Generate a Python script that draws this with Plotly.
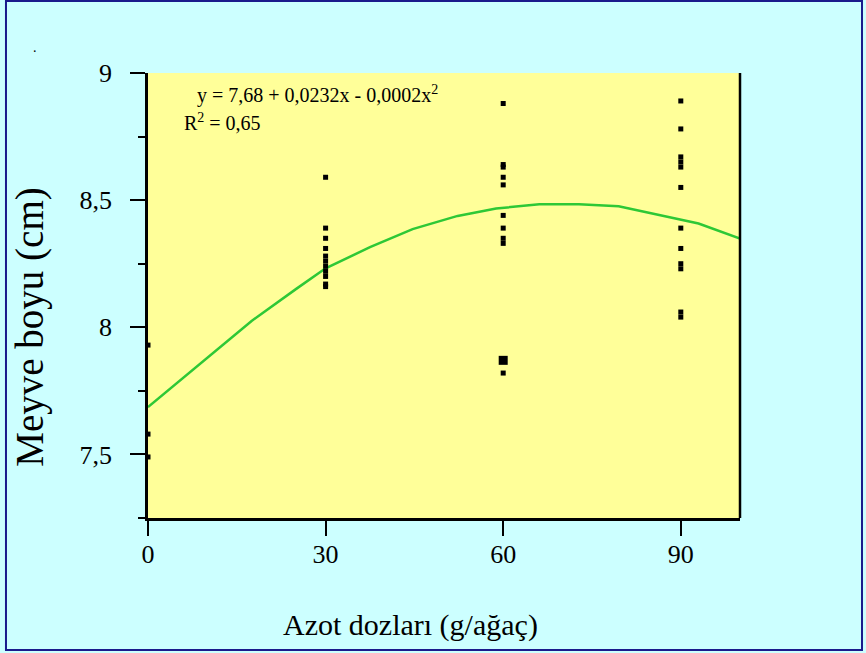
import plotly.graph_objects as go

# Nitrogen dose (g/tree) and fruit length (cm) observations
dose_0 = [0, 0, 0]
len_0 = [7.93, 7.58, 7.49]

dose_30 = [30] * 11
len_30 = [8.59, 8.39, 8.35, 8.31, 8.28, 8.26, 8.24, 8.22, 8.20, 8.17, 8.16]

dose_60 = [60] * 10
len_60 = [8.88, 8.64, 8.63, 8.59, 8.56, 8.44, 8.39, 8.35, 8.33, 7.82]

dose_90 = [90] * 12
len_90 = [8.89, 8.78, 8.67, 8.65, 8.63, 8.55, 8.39, 8.31, 8.25, 8.23, 8.06, 8.04]

# overlapping observations drawn as one larger square
dose_dup = [60]
len_dup = [7.87]

# fitted quadratic trend, as polyline knots
fit_x = [0, 11.3, 17.5, 25.1, 30, 37.5, 44.7, 52.3, 58.8, 66.1, 72.8, 79.5, 93.0, 100]
fit_y = [7.686, 7.903, 8.025, 8.152, 8.232, 8.315, 8.386, 8.438, 8.467, 8.484, 8.484, 8.476, 8.408, 8.349]

x_ticks = [0, 30, 60, 90]

FONT = "Liberation Serif"

fig = go.Figure()

fig.add_trace(go.Scatter(x=fit_x, y=fit_y, mode="lines",
                         line=dict(color="#2ec836", width=2.5),
                         hoverinfo="skip", showlegend=False))

all_x = dose_0 + dose_30 + dose_60 + dose_90
all_y = len_0 + len_30 + len_60 + len_90
fig.add_trace(go.Scatter(x=all_x, y=all_y, mode="markers",
                         marker=dict(symbol="square", size=5, color="black"),
                         cliponaxis=False, showlegend=False))
fig.add_trace(go.Scatter(x=dose_dup, y=len_dup, mode="markers",
                         marker=dict(symbol="square", size=9, color="black"),
                         cliponaxis=False, showlegend=False))

fig.update_xaxes(range=[0, 100], tickvals=x_ticks, ticks="outside", ticklen=15,
                 tickwidth=2, tickcolor="black", showline=True, linecolor="black",
                 linewidth=2.5, showgrid=False, zeroline=False, automargin=False,
                 tickfont=dict(family=FONT, size=26, color="black"),
                 ticklabelstandoff=-4)

fig.update_yaxes(range=[7.25, 9], tick0=7.5, dtick=0.5, ticks="outside", ticklen=15,
                 tickwidth=2, tickcolor="black", showline=True, linecolor="black",
                 linewidth=2.5, showgrid=False, zeroline=False, automargin=False,
                 minor=dict(dtick=0.25, tick0=7.25, ticks="outside", ticklen=7,
                            tickwidth=2, tickcolor="black", showgrid=False),
                 tickfont=dict(family=FONT, size=26, color="black"),
                 ticklabelstandoff=13)

# axis titles
fig.add_annotation(xref="paper", yref="paper", x=0.4426, y=-0.240, xanchor="center",
                   yanchor="middle", showarrow=False, text="Azot dozları (g/ağaç)",
                   font=dict(family=FONT, size=30, color="black"))
fig.add_annotation(xref="paper", yref="paper", x=-0.2000, y=0.429, xanchor="center",
                   yanchor="middle", showarrow=False, text="Meyve boyu (cm)",
                   textangle=-90, font=dict(family=FONT, size=39, color="black"))

# regression equation and fit quality
fig.add_annotation(xref="paper", yref="paper", x=0.080, y=0.952, xanchor="left",
                   yanchor="middle", showarrow=False,
                   text="y = 7,68 + 0,0232x - 0,0002x<sup>2</sup>",
                   font=dict(family=FONT, size=20, color="black"))
fig.add_annotation(xref="paper", yref="paper", x=0.058, y=0.889, xanchor="left",
                   yanchor="middle", showarrow=False,
                   text="R<sup>2</sup> = 0,65",
                   font=dict(family=FONT, size=20, color="black"))
fig.add_annotation(xref="paper", yref="paper", x=-0.191, y=1.058, xanchor="center",
                   yanchor="middle", showarrow=False, text=".",
                   font=dict(family=FONT, size=14, color="black"))

# right-hand frame edge of the plot area
fig.add_shape(type="line", xref="paper", yref="paper", x0=1, x1=1, y0=0, y1=1,
              line=dict(color="black", width=2.5))
# outer border of the whole graphic
fig.add_shape(type="rect", xref="paper", yref="paper",
              x0=-0.2399, x1=1.2061, y0=-0.2966, y1=1.1618,
              line=dict(color="#1a1a8c", width=2), layer="below")

fig.update_layout(width=866, height=653, separators=",.",
                  margin=dict(l=148, r=126, t=73, b=135),
                  paper_bgcolor="#ccffff", plot_bgcolor="#ffff99")

fig.write_html("out.html")
